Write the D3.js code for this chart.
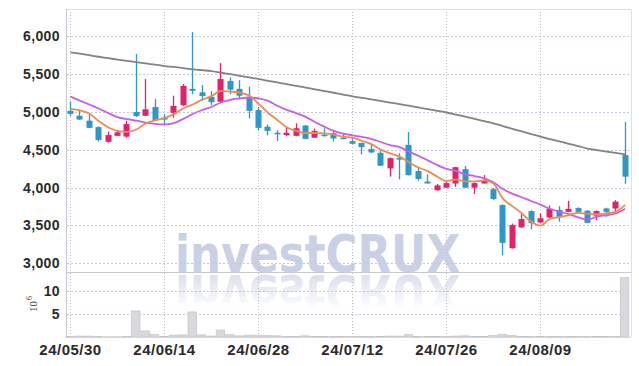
<!DOCTYPE html>
<html><head><meta charset="utf-8">
<script src="https://cdn.jsdelivr.net/npm/d3@7"></script>
<style>body{margin:0;background:#fff}svg{display:block}</style>
</head><body><svg id="c" width="639" height="366"></svg>
<script>
const dates = ["24/05/30","24/05/31","24/06/03","24/06/04","24/06/05","24/06/07","24/06/10","24/06/11","24/06/12","24/06/13",
"24/06/14","24/06/17","24/06/18","24/06/19","24/06/20","24/06/21","24/06/24","24/06/25","24/06/26","24/06/27",
"24/06/28","24/07/01","24/07/02","24/07/03","24/07/04","24/07/05","24/07/08","24/07/09","24/07/10","24/07/11",
"24/07/12","24/07/15","24/07/16","24/07/17","24/07/18","24/07/19","24/07/22","24/07/23","24/07/24","24/07/25",
"24/07/26","24/07/29","24/07/30","24/07/31","24/08/01","24/08/02","24/08/05","24/08/06","24/08/07","24/08/08",
"24/08/09","24/08/12","24/08/13","24/08/14","24/08/16","24/08/19","24/08/20","24/08/21","24/08/22","24/08/23"];
const open  = [5015,4950,4885,4800,4605,4685,4675,5000,4950,5065, 4925,4990,5090,5305,5260,5200,5135,5410,5305,5200,
               5025,4805,4725,4695,4685,4820,4660,4700,4720,4660, 4615,4590,4510,4460,4255,4395,4565,4220,4080,3965,
               4000,4055,4245,4000,4055,3980,3770,3200,3475,3690, 3540,3605,3705,3680,3730,3695,3630,3725,3725,4430];
const high  = [5140,5030,4980,4810,4740,4760,4885,5765,5435,5170, 4970,5215,5370,6055,5355,5275,5645,5455,5420,5335,
               5065,4835,4760,4795,4850,4830,4780,4785,4750,4720, 4655,4595,4565,4485,4400,4455,4735,4270,4175,4050,
               4075,4275,4285,4070,4165,3995,3780,3525,3650,3700, 3660,3765,3755,3825,3740,3700,3700,3735,3835,4870];
const low   = [4945,4895,4785,4610,4595,4680,4660,4935,4945,4885, 4830,4925,5080,5235,5150,5090,5120,5235,5170,4915,
               4755,4690,4615,4680,4680,4640,4655,4675,4610,4640, 4575,4440,4455,4285,4145,4110,4160,4090,4055,3960,
               3995,4010,3995,3915,4055,3835,3105,3195,3470,3450, 3530,3600,3550,3675,3675,3530,3570,3615,3680,4050];
const close = [4975,4900,4790,4630,4695,4730,4840,4945,5035,4890, 4900,5080,5345,5280,5210,5130,5435,5295,5215,5015,
               4790,4750,4705,4725,4785,4645,4750,4680,4650,4645, 4580,4535,4465,4290,4390,4370,4165,4115,4055,4030,
               4060,4270,4000,4060,4095,3850,3270,3505,3585,3530, 3595,3720,3615,3720,3680,3535,3690,3680,3815,4145];
const volume = [0.15,0.2,0.2,0.08,0.05,0.06,0.1,5.6,1.3,0.5, 0.15,0.4,0.45,5.4,0.45,0.2,1.5,0.5,0.25,0.4,
                0.4,0.3,0.25,0.1,0.12,0.25,0.15,0.1,0.12,0.1, 0.08,0.15,0.1,0.12,0.2,0.2,0.5,0.15,0.1,0.1,
                0.12,0.2,0.25,0.15,0.1,0.35,0.6,0.3,0.15,0.12, 0.1,0.15,0.1,0.1,0.08,0.1,0.08,0.08,0.12,12.8];
const ma5  = [5040,5020,4980,4880,4798,4749,4737,4768,4849,4888, 4922,4970,5050,5099,5163,5209,5280,5270,5257,5218,
              5110,4990,4895,4797,4751,4722,4722,4717,4702,4674, 4661,4618,4575,4503,4452,4410,4336,4266,4219,4147,
              4085,4106,4083,4084,4097,4055,3855,3756,3661,3548, 3497,3587,3609,3636,3666,3654,3648,3661,3680,3773];
const ma10 = [5202,5151,5099,5046,4986,4933,4905,4885,4860,4843, 4836,4854,4909,4974,5026,5066,5125,5160,5178,5191,
              5180,5147,5083,5027,4985,4936,4868,4806,4750,4713, 4692,4670,4646,4603,4563,4536,4477,4421,4361,4300,
              4248,4221,4175,4152,4122,4070,3981,3920,3873,3823, 3776,3721,3683,3649,3607,3576,3618,3635,3658,3720];
const maLong = [5788,5770,5750,5730,5712,5693,5676,5660,5642,5625, 5607,5595,5580,5564,5552,5541,5520,5500,5478,5458,
                5436,5412,5390,5368,5346,5323,5300,5277,5254,5230, 5207,5187,5167,5146,5125,5105,5083,5060,5038,5015,
                4993,4966,4937,4908,4878,4848,4813,4778,4743,4708, 4673,4642,4611,4580,4549,4517,4497,4477,4458,4440];
const priceTicks = [3000,3500,4000,4500,5000,5500,6000];
const volTicks = [5,10];
const dateTickIdx = [0,10,20,30,40,50];

const svg = d3.select("#c");
const L=67, R=631, T=9, MB=272, VB=337;
const x = d3.scaleLinear().domain([-0.32,59.68]).range([L,R]);
const y = d3.scaleLinear().domain([2885,6361]).range([MB,T]);
const yv = d3.scaleLinear().domain([0,14.0]).range([VB,MB]);
const idx = d3.range(dates.length);
const FONT = "'Liberation Sans Narrow','Liberation Sans',sans-serif";

// watermark (text plus faded mirror image)
const defs = svg.append("defs");
const grad = defs.append("linearGradient").attr("id","fade").attr("gradientUnits","userSpaceOnUse")
  .attr("x1",0).attr("y1",273).attr("x2",0).attr("y2",310);
grad.append("stop").attr("offset",0).attr("stop-color","#fff").attr("stop-opacity",0.7);
grad.append("stop").attr("offset",1).attr("stop-color","#fff").attr("stop-opacity",0);
defs.append("mask").attr("id","m").attr("maskUnits","userSpaceOnUse")
  .append("rect").attr("x",0).attr("y",273).attr("width",639).attr("height",60).attr("fill","url(#fade)");
const wmAttrs = t => t.attr("x",317.5).attr("y",271.5).attr("text-anchor","middle")
  .attr("font-family","'DejaVu Sans',sans-serif").attr("font-weight","bold").attr("font-size",52)
  .attr("textLength",285).attr("lengthAdjust","spacingAndGlyphs").attr("fill","#cad0e6").text("investCRUX");
svg.append("text").call(wmAttrs);
svg.append("g").attr("mask","url(#m)").append("g").attr("transform","translate(0,546) scale(1,-1)")
  .append("text").call(wmAttrs);

// grid
const g = svg.append("g");
g.selectAll(".hg").data(priceTicks).join("line")
  .attr("x1",L).attr("x2",R).attr("y1",d=>Math.round(y(d))+0.5).attr("y2",d=>Math.round(y(d))+0.5)
  .attr("stroke","#c3c8e0").attr("stroke-dasharray","2,2");
g.selectAll(".vg").data(volTicks).join("line")
  .attr("x1",L).attr("x2",R).attr("y1",d=>Math.round(yv(d))+0.5).attr("y2",d=>Math.round(yv(d))+0.5)
  .attr("stroke","#c3c8e0").attr("stroke-dasharray","2,2");
g.selectAll(".xg").data(dateTickIdx).join("line")
  .attr("x1",d=>Math.round(x(d))+0.5).attr("x2",d=>Math.round(x(d))+0.5).attr("y1",T).attr("y2",VB)
  .attr("stroke","#bcbccb").attr("stroke-dasharray","1,2");

// volume bars
svg.append("g").selectAll("rect").data(idx).join("rect")
  .attr("x",i=>x(i)-4.2).attr("width",8.4)
  .attr("y",i=>yv(volume[i])).attr("height",i=>VB-yv(volume[i]))
  .attr("fill","#d8d8dd").attr("stroke","#c4c4ca").attr("stroke-width",0.7);

// candles
const UP="#e2206c", DN="#2f96c8";
const cg = svg.append("g");
cg.selectAll("line").data(idx).join("line")
  .attr("x1",i=>Math.round(x(i))+0.5).attr("x2",i=>Math.round(x(i))+0.5)
  .attr("y1",i=>y(high[i])).attr("y2",i=>y(low[i]))
  .attr("stroke",i=>close[i]>=open[i]?UP:DN).attr("stroke-width",1.3);
cg.selectAll("rect").data(idx).join("rect")
  .attr("x",i=>Math.round(x(i))-2.5).attr("width",6)
  .attr("y",i=>y(Math.max(open[i],close[i])))
  .attr("height",i=>Math.max(1.5,Math.abs(y(open[i])-y(close[i]))))
  .attr("fill",i=>close[i]>=open[i]?UP:DN);

// moving averages
const lineGen = arr => d3.line().x(i=>x(i)+0.5).y(i=>y(arr[i])).curve(d3.curveMonotoneX)(idx);
[[maLong,"#838383"],[ma10,"#c95ceb"],[ma5,"#ef8a52"]].forEach(([arr,c])=>{
  svg.append("path").attr("d",lineGen(arr)).attr("fill","none").attr("stroke",c).attr("stroke-width",1.8);
});

// frame
const fr = svg.append("g").attr("fill","none");
fr.append("line").attr("x1",L-0.5).attr("x2",L-0.5).attr("y1",T).attr("y2",VB+1).attr("stroke","#c8c8d0");
fr.append("line").attr("x1",L).attr("x2",R).attr("y1",T+0.5).attr("y2",T+0.5).attr("stroke","#e0e0e4");
fr.append("line").attr("x1",R+0.5).attr("x2",R+0.5).attr("y1",T).attr("y2",VB).attr("stroke","#e0e0e4");
fr.append("line").attr("x1",L).attr("x2",R).attr("y1",MB+0.5).attr("y2",MB+0.5).attr("stroke","#c8c8d0");
fr.append("line").attr("x1",L).attr("x2",R).attr("y1",VB+0.5).attr("y2",VB+0.5).attr("stroke","#d6d6dc");

// axes
const styleAxis = (sel,size,ls) => { sel.select(".domain").remove();
  sel.selectAll("text").attr("font-family",FONT).attr("font-weight","bold").attr("font-size",size)
    .attr("fill","#2a2a2a").attr("letter-spacing",ls); };
svg.append("g").attr("transform",`translate(${L},0)`)
  .call(d3.axisLeft(y).tickValues(priceTicks).tickFormat(d3.format(",")).tickSize(0).tickPadding(7))
  .call(s=>styleAxis(s,14,0.4));
svg.append("g").attr("transform",`translate(${L},0)`)
  .call(d3.axisLeft(yv).tickValues(volTicks).tickFormat(d3.format("d")).tickSize(0).tickPadding(7))
  .call(s=>styleAxis(s,14,0.4));
svg.append("g").attr("transform",`translate(0,${VB})`)
  .call(d3.axisBottom(x).tickValues(dateTickIdx).tickFormat(i=>dates[i]).tickSize(0).tickPadding(7))
  .call(s=>styleAxis(s,15,0.5));

// volume unit label
const ul = svg.append("text").attr("transform","translate(36.5,312) rotate(-90)")
  .attr("font-family","'Liberation Serif',serif").attr("font-size",11).attr("fill","#444");
ul.append("tspan").text("10");
ul.append("tspan").attr("dy",-5).attr("dx",1).attr("font-size",8).text("6");
</script></body></html>
